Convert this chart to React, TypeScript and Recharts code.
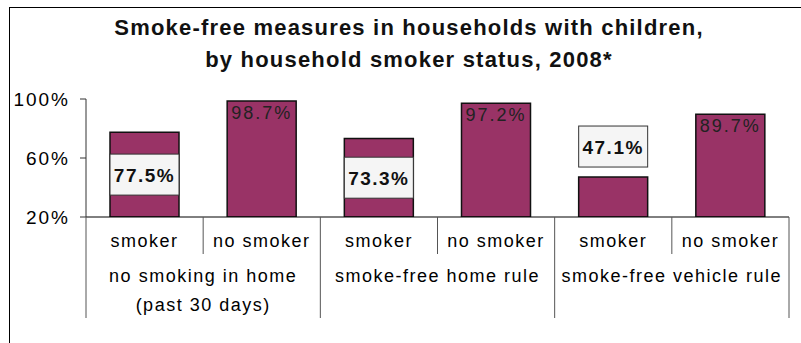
import { BarChart, Bar, XAxis, YAxis, LabelList } from 'recharts'

const groups = ['no smoking in home', 'smoke-free home rule', 'smoke-free vehicle rule']
const groupSub = ['(past 30 days)', '', '']
const statuses = ['smoker', 'no smoker']
const smokerValues = [77.5, 73.3, 47.1]
const noSmokerValues = [98.7, 97.2, 89.7]
const yTicks = [20, 60, 100]

const data = groups.flatMap((g, i) => [
  { name: statuses[0], group: g, sub: groupSub[i], value: smokerValues[i] },
  { name: statuses[1], group: g, sub: groupSub[i], value: noSmokerValues[i] },
])

const FONT = '"Liberation Sans", Arial, sans-serif'
const PLUM = '#993366'
const W = 801
const H = 343
const M = { top: 99, right: 12, left: 0, bottom: 0 }
const X_H = 126
const Y_W = 86
const BAND = (W - M.right - Y_W) / data.length
const AXIS_Y = H - X_H

function CatTick(props: any) {
  const { x, payload } = props
  const i = payload.index
  const d = data[i]
  const left = x - BAND / 2
  const txt = { fontFamily: FONT, fontSize: 18, letterSpacing: 1.5, fill: '#000', textAnchor: 'middle' as const }
  return (
    <g>
      <line x1={left} x2={left} y1={AXIS_Y} y2={318} stroke="#555" strokeDasharray={i % 2 === 0 ? undefined : '37 200'} />
      {i === data.length - 1 && <line x1={x + BAND / 2} x2={x + BAND / 2} y1={AXIS_Y} y2={318} stroke="#555" />}
      <text x={x} y={247} {...txt}>{d.name}</text>
      {i % 2 === 1 && <text x={left} y={282} {...txt}>{d.group}</text>}
      {i % 2 === 1 && d.sub && <text x={left} y={311} {...txt}>{d.sub}</text>}
    </g>
  )
}

function BarLabel(props: any) {
  const { x, y, width, height, value, index } = props
  const cx = x + width / 2
  const label = `${value.toFixed(1)}%`
  if (data[index].name === 'no smoker') {
    return (
      <text x={cx} y={y + 18} textAnchor="middle" fontFamily={FONT} fontSize={18} letterSpacing={2} fill="#222">
        {label}
      </text>
    )
  }
  const bh = 41
  const bw = 69
  const by = height > bh + 10 ? y + height / 2 - bh / 2 : y - bh - 10
  return (
    <g>
      <rect x={cx - bw / 2} y={by} width={bw} height={bh} fill="#f5f5f5" stroke="#333" strokeWidth={1} />
      <text x={cx} y={by + bh / 2 + 7} textAnchor="middle" fontFamily={FONT} fontSize={19} fontWeight={700} letterSpacing={1.5} fill="#111">
        {label}
      </text>
    </g>
  )
}

export default function App() {
  return (
    <div style={{ position: 'relative', width: W, height: H, overflow: 'hidden', background: '#fff' }}>
      <style>{'body{margin:0}'}</style>
      <div style={{ position: 'absolute', left: 9, top: 7, width: 820, height: 400, border: '1.5px solid #000', boxSizing: 'border-box' }} />
      <div style={{ position: 'absolute', left: 0, top: 12, width: 818, textAlign: 'center', fontFamily: FONT, fontWeight: 700, fontSize: 22, letterSpacing: 1.2, lineHeight: '32px', color: '#111' }}>
        Smoke-free measures in households with children,<br />by household smoker status, 2008*
      </div>
      <div style={{ position: 'absolute', left: 0, top: 0 }}>
        <BarChart width={W} height={H} data={data} margin={M}>
          <XAxis dataKey="name" axisLine={{ stroke: '#000' }} tickLine={false} tick={<CatTick />} interval={0} height={X_H} />
          <YAxis
            domain={[20, 100]} ticks={yTicks} width={Y_W} allowDataOverflow
            axisLine={{ stroke: '#333' }} tickLine={{ stroke: '#333' }} tickSize={6} tickMargin={10}
            tickFormatter={(v) => `${v}%`}
            tick={{ fontFamily: FONT, fontSize: 19, fill: '#000', letterSpacing: 2 }}
          />
          <Bar dataKey="value" fill={PLUM} stroke="#111" strokeWidth={1.5} barSize={69} isAnimationActive={false}>
            <LabelList dataKey="value" content={<BarLabel />} />
          </Bar>
        </BarChart>
      </div>
    </div>
  )
}
